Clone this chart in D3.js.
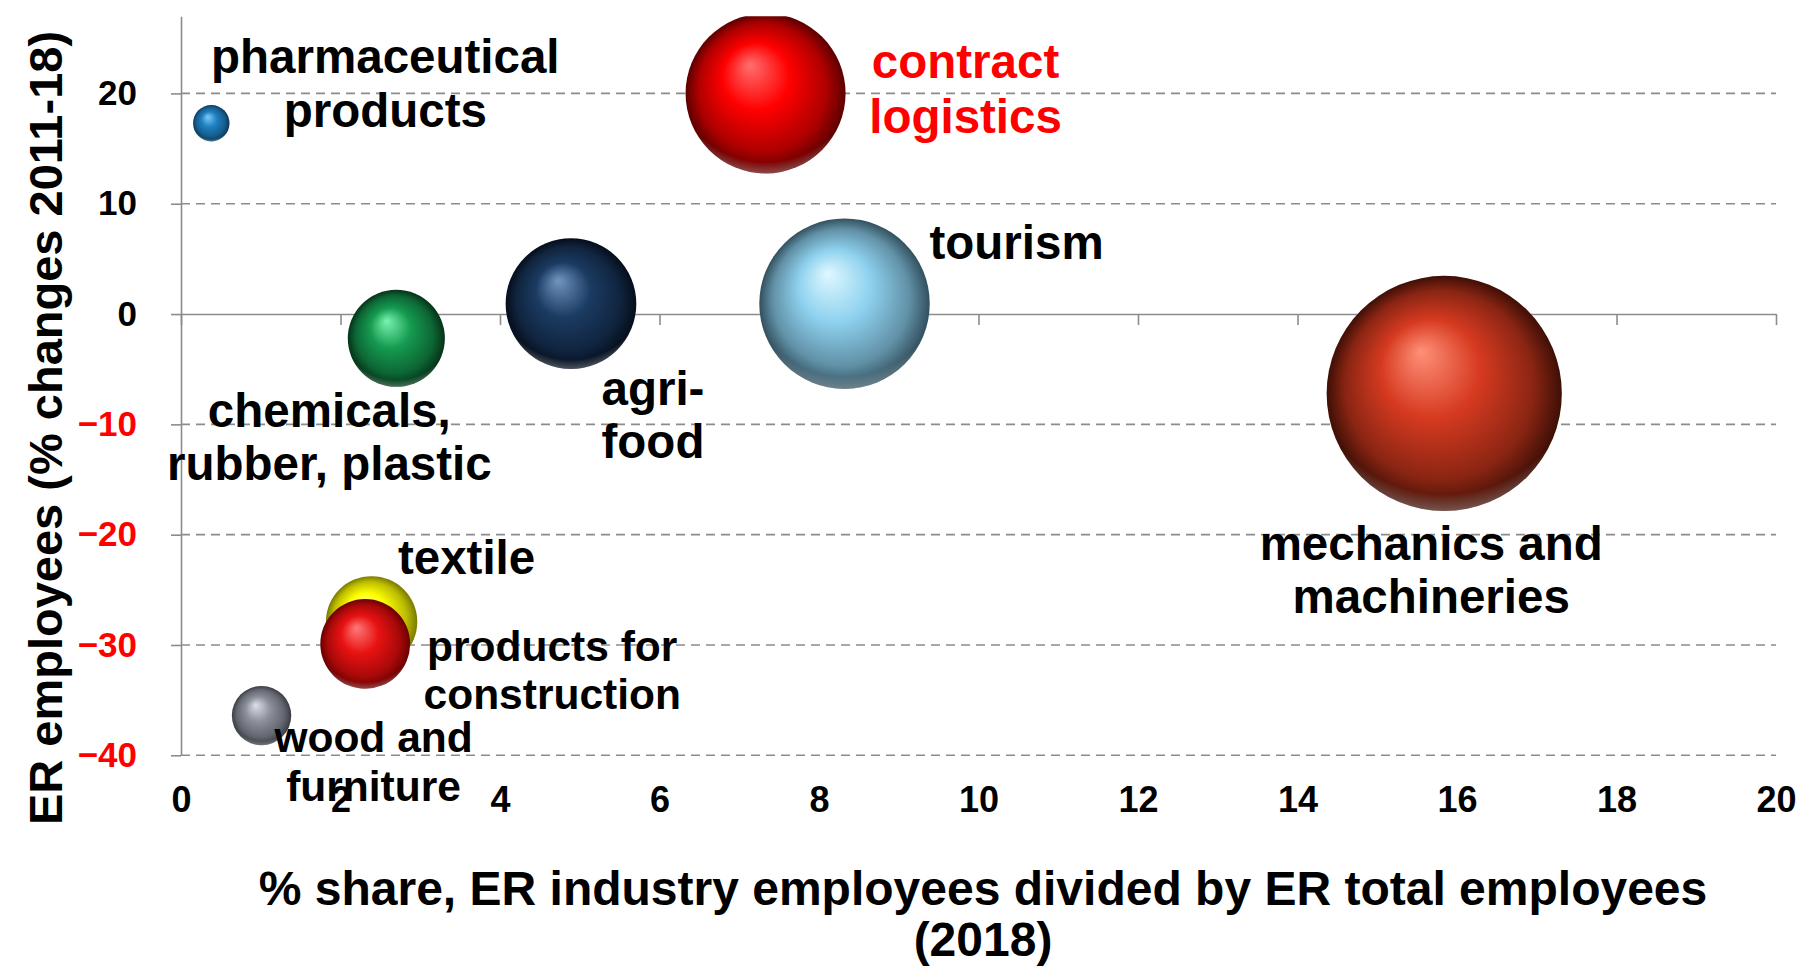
<!DOCTYPE html>
<html>
<head>
<meta charset="utf-8">
<script src="https://cdn.jsdelivr.net/npm/d3@7"></script>
<style>
  html, body { margin: 0; padding: 0; background: #fff; }
  svg { display: block; }
  text { font-family: "Liberation Sans", Arial, sans-serif; font-weight: bold; }
</style>
</head>
<body>
<svg id="chart" width="1808" height="971"></svg>
<script>
// ---------------- data ----------------
const categories = [
  "pharmaceutical products",
  "contract logistics",
  "tourism",
  "agri-food",
  "chemicals, rubber, plastic",
  "mechanics and machineries",
  "textile",
  "products for construction",
  "wood and furniture"
];
const labelLines = [
  ["pharmaceutical", "products"],
  ["contract", "logistics"],
  ["tourism"],
  ["agri-", "food"],
  ["chemicals,", "rubber, plastic"],
  ["mechanics and", "machineries"],
  ["textile"],
  ["products for", "construction"],
  ["wood and", "furniture"]
];
// x: % share of ER total employees (2018); also bubble size
const share  = [0.38, 7.33, 8.32, 4.89, 2.70, 15.84, 2.39, 2.31, 1.01];
// y: % change of ER employees 2011-18
const change = [17.3, 20.0, 0.94, 0.94, -2.2, -7.2, -27.9, -29.9, -36.4];

const xTicks = [0, 2, 4, 6, 8, 10, 12, 14, 16, 18, 20];
const yTicks = [-40, -30, -20, -10, 0, 10, 20];
const xTitleLines = ["% share, ER industry employees divided by ER total employees", "(2018)"];
const yTitle = "ER employees (% changes 2011-18)";

// ---------------- styles ----------------
const palette = [
  ["#7ccdf4", "#1f80c2", "#0a3858"],
  ["#ff7070", "#ff0000", "#5c0000"],
  ["#e0f8ff", "#8fd2ef", "#33505e"],
  ["#7096c0", "#1b3b62", "#050d1a"],
  ["#78f4b0", "#159a50", "#053218"],
  ["#ff9078", "#d63a20", "#3e0f06"],
  ["#ffffb0", "#ffff00", "#7a7a00"],
  ["#ff7a7a", "#e81212", "#6a0000"],
  ["#dde0e8", "#8c909a", "#3a3c44"]
];
// label offsets from bubble centre (px), anchor, font size, colour
const labelStyle = [
  {dx: 174, dy: -50, gap: 54, anchor: "middle", size: 47.5, color: "#000"},
  {dx: 200, dy: -15, gap: 55, anchor: "middle", size: 47.5, color: "#ff0000"},
  {dx: 85,  dy: -45, gap: 54, anchor: "start",  size: 47.5, color: "#000"},
  {dx: 82,  dy: 101, gap: 53, anchor: "middle", size: 47.5, color: "#000"},
  {dx: -67, dy: 89,  gap: 53, anchor: "middle", size: 47.5, color: "#000"},
  {dx: -13, dy: 167, gap: 53, anchor: "middle", size: 47.5, color: "#000"},
  {dx: 95,  dy: -48, gap: 54, anchor: "middle", size: 47.5, color: "#000"},
  {dx: 187, dy: 17,  gap: 48, anchor: "middle", size: 42.5, color: "#000"},
  {dx: 112, dy: 36,  gap: 49, anchor: "middle", size: 42.5, color: "#000"}
];

// ---------------- scales ----------------
const svg = d3.select("#chart");
const x = d3.scaleLinear().domain([0, 20]).range([181, 1776]);
const y = d3.scaleLinear().domain([-40, 27]).range([755.3, 16.2]);
const r = d3.scaleSqrt().domain([0, 15.84]).range([0, 117.6]);

const defs = svg.append("defs");
palette.forEach((c, i) => {
  const g = defs.append("radialGradient").attr("id", "sph" + i)
    .attr("cx", "50%").attr("cy", "50%").attr("r", "50%")
    .attr("fx", "40%").attr("fy", "32%");
  g.append("stop").attr("offset", "0%").attr("stop-color", c[0]);
  g.append("stop").attr("offset", "42%").attr("stop-color", c[1]);
  g.append("stop").attr("offset", "80%").attr("stop-color", d3.interpolateRgb(c[1], c[2])(0.5));
  g.append("stop").attr("offset", "100%").attr("stop-color", c[2]);
});
const rim = defs.append("radialGradient").attr("id", "rim")
  .attr("cx", "50%").attr("cy", "34%").attr("r", "70%");
rim.append("stop").attr("offset", "0%").attr("stop-color", "#fff").attr("stop-opacity", 0);
rim.append("stop").attr("offset", "84%").attr("stop-color", "#fff").attr("stop-opacity", 0);
rim.append("stop").attr("offset", "100%").attr("stop-color", "#fff").attr("stop-opacity", 0.45);

defs.append("clipPath").attr("id", "plotClip")
  .append("rect").attr("x", 0).attr("y", y(27)).attr("width", 1808).attr("height", 971);

const gridColor = "#8c8c8c";

// ---------------- gridlines ----------------
svg.append("g").selectAll("line").data(yTicks.filter(v => v !== 0)).join("line")
  .attr("x1", x(0)).attr("x2", x(20))
  .attr("y1", d => y(d)).attr("y2", d => y(d))
  .attr("stroke", gridColor).attr("stroke-width", 1.6)
  .attr("stroke-dasharray", "9,6");

// ---------------- y axis ----------------
const yAxis = svg.append("g").attr("transform", `translate(${x(0)},0)`)
  .call(d3.axisLeft(y).tickValues(yTicks).tickSizeInner(10).tickSizeOuter(0).tickPadding(34));
yAxis.select(".domain").attr("stroke", gridColor).attr("stroke-width", 1.6);
yAxis.selectAll(".tick line").attr("stroke", gridColor).attr("stroke-width", 1.6);
yAxis.selectAll(".tick text")
  .style("font-family", '"Liberation Sans", Arial, sans-serif')
  .style("font-weight", "bold").style("font-size", "35px")
  .attr("fill", d => d < 0 ? "#ff0000" : "#000");

// ---------------- x axis (zero line) ----------------
const xAxis = svg.append("g").attr("transform", `translate(0,${y(0)})`)
  .call(d3.axisBottom(x).tickValues(xTicks).tickSizeInner(11).tickSizeOuter(0).tickFormat(""));
xAxis.select(".domain").attr("stroke", gridColor).attr("stroke-width", 1.6);
xAxis.selectAll(".tick line").attr("stroke", gridColor).attr("stroke-width", 1.6);

// x tick labels at bottom
const xLab = svg.append("g").attr("transform", `translate(0,812)`)
  .call(d3.axisBottom(x).tickValues(xTicks).tickSize(0).tickPadding(0));
xLab.select(".domain").remove();
xLab.selectAll(".tick text").attr("y", 0).attr("dy", 0)
  .style("font-family", '"Liberation Sans", Arial, sans-serif')
  .style("font-weight", "bold").style("font-size", "36px").attr("fill", "#000");

// ---------------- bubbles ----------------
const data = categories.map((c, i) => ({name: c, share: share[i], change: change[i], i}));
const bub = svg.append("g").attr("clip-path", "url(#plotClip)");
const groups = bub.selectAll("g.bubble").data(data).join("g").attr("class", "bubble");
groups.append("circle")
  .attr("cx", d => x(d.share)).attr("cy", d => y(d.change)).attr("r", d => r(d.share))
  .attr("fill", d => `url(#sph${d.i})`);
groups.append("circle")
  .attr("cx", d => x(d.share)).attr("cy", d => y(d.change)).attr("r", d => r(d.share))
  .attr("fill", "url(#rim)");

// ---------------- labels ----------------
const lab = svg.append("g");
data.forEach(d => {
  const s = labelStyle[d.i];
  const t = lab.append("text")
    .attr("text-anchor", s.anchor).attr("fill", s.color)
    .style("font-size", s.size + "px");
  labelLines[d.i].forEach((line, k) => {
    t.append("tspan").attr("x", x(d.share) + s.dx).attr("y", y(d.change) + s.dy + k * s.gap).text(line);
  });
});

// ---------------- titles ----------------
const xt = svg.append("text").attr("text-anchor", "middle").attr("fill", "#000").style("font-size", "48px");
xTitleLines.forEach((line, k) => {
  xt.append("tspan").attr("x", 983).attr("y", 905 + k * 51).text(line);
});
svg.append("text").attr("text-anchor", "middle").attr("fill", "#000").style("font-size", "47px")
  .attr("transform", "translate(62,428) rotate(-90)").text(yTitle);
</script>
</body>
</html>
